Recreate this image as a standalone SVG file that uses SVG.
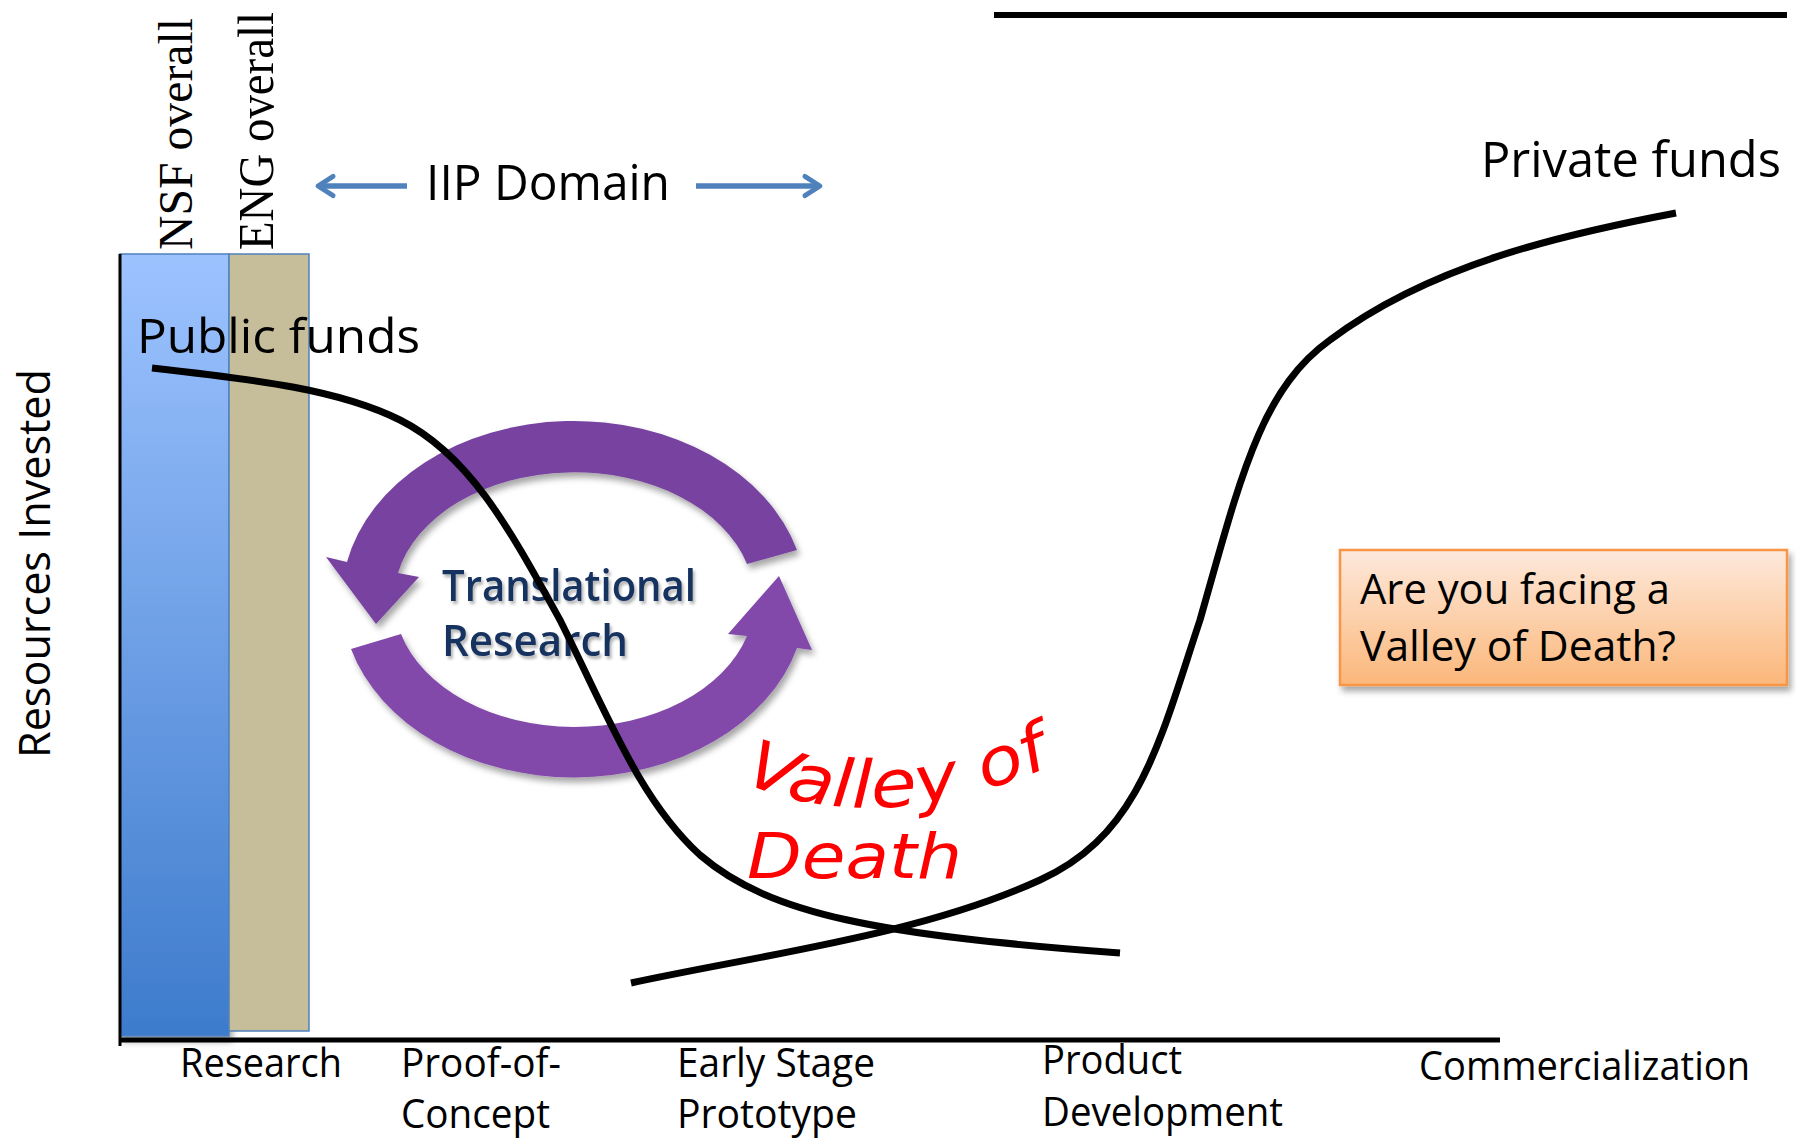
<svg xmlns="http://www.w3.org/2000/svg" width="1796" height="1138" viewBox="0 0 1796 1138">
<style>
.lbl{font-family:"Open Sans","Liberation Sans",sans-serif;fill:#000}
.serif{font-family:"Liberation Serif","Times New Roman",serif;fill:#000}
.curve{fill:none;stroke:#000;stroke-width:7;stroke-linecap:butt}
.iip{stroke:#4f81bd;stroke-width:5.5;fill:none}
.vod{font-family:"DejaVu Sans","Liberation Sans",sans-serif;fill:#ff0000;font-style:oblique}
</style>
<defs>
<linearGradient id="gBlue" x1="0" y1="0" x2="0" y2="1">
<stop offset="0" stop-color="#9dc3ff"/>
<stop offset="1" stop-color="#3d7bcc"/>
</linearGradient>
<linearGradient id="gOrange" x1="0" y1="0" x2="0" y2="1">
<stop offset="0" stop-color="#fde9dc"/>
<stop offset="1" stop-color="#fbb77a"/>
</linearGradient>
<marker id="openArrow" viewBox="0 0 20 20" refX="16" refY="10" markerWidth="5" markerHeight="5" markerUnits="strokeWidth" orient="auto-start-reverse">
<path d="M5,3 L16,10 L5,17" fill="none" stroke="#4f81bd" stroke-width="3.5" stroke-linecap="round" stroke-linejoin="round"/>
</marker>
<filter id="shadow" x="-10%" y="-10%" width="130%" height="140%">
<feDropShadow dx="3" dy="5" stdDeviation="3" flood-color="#000" flood-opacity="0.35"/>
</filter>
<filter id="tshadow" x="-5%" y="-5%" width="115%" height="125%">
<feDropShadow dx="2" dy="3" stdDeviation="1.5" flood-color="#000" flood-opacity="0.3"/>
</filter>
</defs>
<rect x="0" y="0" width="1796" height="1138" fill="#ffffff"/>

<!-- top rule -->
<line x1="994" y1="15" x2="1787" y2="15" stroke="#000" stroke-width="6"/>

<!-- bars -->
<g id="nsf-bar">
<rect x="120" y="254" width="109" height="782" fill="url(#gBlue)" stroke="#4f81bd" stroke-width="1.5" filter="url(#shadow)"/>
<text class="serif" transform="translate(192,250) rotate(-90)" font-size="48" textLength="232" lengthAdjust="spacingAndGlyphs">NSF overall</text>
</g>
<g id="eng-bar">
<rect x="229" y="254" width="80" height="777" fill="#c6bd9a" stroke="#4f81bd" stroke-width="1.5"/>
<text class="serif" transform="translate(273,250) rotate(-90)" font-size="50" textLength="238" lengthAdjust="spacingAndGlyphs">ENG overall</text>
</g>

<!-- axes -->
<g id="axes">
<line x1="120" y1="254" x2="120" y2="1046" stroke="#000" stroke-width="3"/>
<line x1="120" y1="1040" x2="1500" y2="1040" stroke="#000" stroke-width="5"/>
<text class="lbl" transform="translate(50,758) rotate(-90)" font-size="44" textLength="389" lengthAdjust="spacingAndGlyphs">Resources Invested</text>
</g>

<!-- IIP domain -->
<g id="iip-domain">
<text class="lbl" x="426" y="200" font-size="50" textLength="244" lengthAdjust="spacingAndGlyphs">IIP Domain</text>
</g>

<!-- translational research cycle -->
<g id="cycle">
<path d="M797,550 A232,178 0 0 0 347,562 L326,557 L376,624 L419,577 L398,573 A180,127 0 0 1 747,564 Z" fill="#7743a0" filter="url(#shadow)"/>
<path d="M351,649 A232,178 0 0 0 797,648 L812,650 L779,576 L728,634 L747,636 A180,127 0 0 1 401,634 Z" fill="#8249ab" filter="url(#shadow)"/>
<text x="442" y="601" font-family="Open Sans,Liberation Sans,sans-serif" font-weight="600" font-size="44" fill="#16305e" textLength="254" lengthAdjust="spacingAndGlyphs" filter="url(#tshadow)">Translational</text>
<text x="442" y="656" font-family="Open Sans,Liberation Sans,sans-serif" font-weight="600" font-size="44" fill="#16305e" textLength="186" lengthAdjust="spacingAndGlyphs" filter="url(#tshadow)">Research</text>
</g>

<!-- valley of death -->
<g id="valley-of-death">
<path id="vodPath" d="M742,782 Q880,842 1060,762" fill="none" stroke="none"/>
<text class="vod" font-size="66"><textPath href="#vodPath" textLength="320" lengthAdjust="spacingAndGlyphs">Valley of</textPath></text>
<text class="vod" x="747" y="878" font-size="62" textLength="215" lengthAdjust="spacingAndGlyphs">Death</text>
</g>

<!-- question box -->
<g id="question">
<rect x="1340" y="550" width="447" height="135" fill="url(#gOrange)" stroke="#f79646" stroke-width="2.5" filter="url(#shadow)"/>
<text class="lbl" x="1360" y="604" font-size="42" textLength="310" lengthAdjust="spacingAndGlyphs">Are you facing a</text>
<text class="lbl" x="1360" y="661" font-size="42" textLength="316" lengthAdjust="spacingAndGlyphs">Valley of Death?</text>
</g>

<!-- funds labels -->
<g id="public-funds">
<text class="lbl" x="137" y="353" font-size="48" textLength="283" lengthAdjust="spacingAndGlyphs">Public funds</text>
</g>
<g id="private-funds">
<text class="lbl" x="1481" y="177" font-size="50" textLength="300" lengthAdjust="spacingAndGlyphs">Private funds</text>
</g>

<!-- stage labels -->
<g id="stages" class="lbl" font-size="40">
<text x="180" y="1077" textLength="162" lengthAdjust="spacingAndGlyphs">Research</text>
<text x="401" y="1077" textLength="160" lengthAdjust="spacingAndGlyphs">Proof-of-</text>
<text x="401" y="1128" textLength="149" lengthAdjust="spacingAndGlyphs">Concept</text>
<text x="677" y="1077" textLength="198" lengthAdjust="spacingAndGlyphs">Early Stage</text>
<text x="677" y="1128" textLength="180" lengthAdjust="spacingAndGlyphs">Prototype</text>
<text x="1042" y="1074" textLength="140" lengthAdjust="spacingAndGlyphs">Product</text>
<text x="1042" y="1126" textLength="241" lengthAdjust="spacingAndGlyphs">Development</text>
<text x="1419" y="1080" textLength="331" lengthAdjust="spacingAndGlyphs">Commercialization</text>
</g>

<!-- connectors / curves -->
<g id="connectors">
<line class="iip" x1="407" y1="186" x2="318" y2="186" marker-end="url(#openArrow)"/>
<line class="iip" x1="696" y1="186" x2="820" y2="186" marker-end="url(#openArrow)"/>
<path id="public-curve" class="curve" d="M152,368 C260,380 340,390 400,420 C470,455 510,530 560,620 C610,720 640,800 700,855 C770,915 880,935 1120,953"/>
<path id="private-curve" class="curve" d="M631,983 C760,955 920,935 1040,880 C1140,835 1160,740 1200,620 C1240,480 1260,390 1330,340 C1430,265 1560,235 1676,213"/>
</g>
</svg>
